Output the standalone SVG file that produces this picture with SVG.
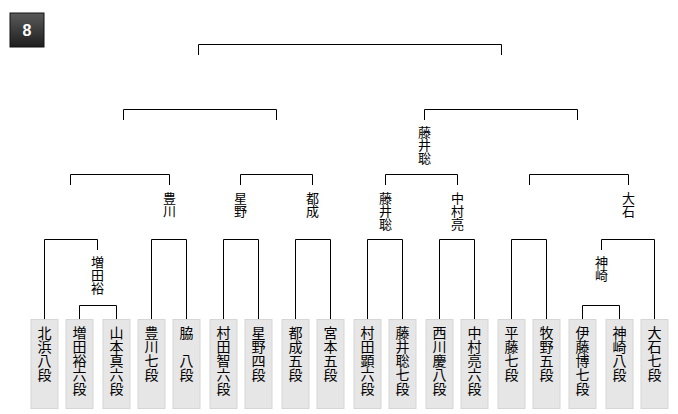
<svg xmlns="http://www.w3.org/2000/svg" width="678" height="414" viewBox="0 0 678 414">
<defs>
<linearGradient id="bg" x1="0" y1="0" x2="0" y2="1">
<stop offset="0" stop-color="#5a5a5a"/>
<stop offset="1" stop-color="#1e1e1e"/>
</linearGradient>
</defs>
<style>
.ln{fill:none;stroke:#000;stroke-width:1}
.bx{fill:#e6e6e6;stroke:#d6d6d6;stroke-width:1}
.t{font-family:"Noto Sans CJK JP","Noto Sans CJK SC",sans-serif;font-size:13px;fill:#000;writing-mode:vertical-rl;text-orientation:upright}
.n{font-size:14px}
</style>
<rect width="678" height="414" fill="#fff"/>
<g id="badge">
<rect x="10" y="13" width="34" height="34" fill="url(#bg)" stroke="#111"/>
<text x="27" y="36" text-anchor="middle" font-family="Liberation Sans, Arial, sans-serif" font-weight="bold" font-size="16" fill="#fff">8</text>
</g>
<g id="connectors">
<path class="ln" d="M198.5,55V44.5H501.5V55"/>
<path class="ln" d="M123.5,120V109.5H276.5V120"/>
<path class="ln" d="M424.5,120V109.5H577.5V120"/>
<path class="ln" d="M70.5,185V174.5H169.5V185"/>
<path class="ln" d="M240.5,185V174.5H312.5V185"/>
<path class="ln" d="M385.5,185V174.5H457.5V185"/>
<path class="ln" d="M529.5,185V174.5H628.5V185"/>
<path class="ln" d="M44.5,319V239.5H97.5V250"/>
<path class="ln" d="M79.5,319V305.5H116.5V319"/>
<path class="ln" d="M151.5,319V239.5H186.5V319"/>
<path class="ln" d="M223.5,319V239.5H258.5V319"/>
<path class="ln" d="M295.5,319V239.5H330.5V319"/>
<path class="ln" d="M367.5,319V239.5H402.5V319"/>
<path class="ln" d="M439.5,319V239.5H474.5V319"/>
<path class="ln" d="M511.5,319V239.5H546.5V319"/>
<path class="ln" d="M601.5,250V239.5H654.5V319"/>
<path class="ln" d="M582.5,319V305.5H619.5V319"/>
</g>
<g id="labels">
<text class="t" x="424.5" y="126">藤井聡</text>
<text class="t" x="169.5" y="192">豊川</text>
<text class="t" x="240.5" y="192">星野</text>
<text class="t" x="312.5" y="192">都成</text>
<text class="t" x="385.5" y="192">藤井聡</text>
<text class="t" x="457.5" y="192">中村亮</text>
<text class="t" x="628.5" y="192">大石</text>
<text class="t" x="97.5" y="256">増田裕</text>
<text class="t" x="601.5" y="256">神崎</text>
</g>
<g id="p1"><rect class="bx" x="31" y="319.5" width="27" height="89"/><text class="t n" x="44.5" y="326">北浜八段</text></g>
<g id="p2"><rect class="bx" x="66" y="319.5" width="27" height="89"/><text class="t n" x="79.5" y="326">増田裕六段</text></g>
<g id="p3"><rect class="bx" x="103" y="319.5" width="27" height="89"/><text class="t n" x="116.5" y="326">山本真六段</text></g>
<g id="p4"><rect class="bx" x="138" y="319.5" width="27" height="89"/><text class="t n" x="151.5" y="326">豊川七段</text></g>
<g id="p5"><rect class="bx" x="173" y="319.5" width="27" height="89"/><text class="t n" x="186.5" y="326">脇　八段</text></g>
<g id="p6"><rect class="bx" x="210" y="319.5" width="27" height="89"/><text class="t n" x="223.5" y="326">村田智六段</text></g>
<g id="p7"><rect class="bx" x="245" y="319.5" width="27" height="89"/><text class="t n" x="258.5" y="326">星野四段</text></g>
<g id="p8"><rect class="bx" x="282" y="319.5" width="27" height="89"/><text class="t n" x="295.5" y="326">都成五段</text></g>
<g id="p9"><rect class="bx" x="317" y="319.5" width="27" height="89"/><text class="t n" x="330.5" y="326">宮本五段</text></g>
<g id="p10"><rect class="bx" x="354" y="319.5" width="27" height="89"/><text class="t n" x="367.5" y="326">村田顕六段</text></g>
<g id="p11"><rect class="bx" x="389" y="319.5" width="27" height="89"/><text class="t n" x="402.5" y="326">藤井聡七段</text></g>
<g id="p12"><rect class="bx" x="426" y="319.5" width="27" height="89"/><text class="t n" x="439.5" y="326">西川慶八段</text></g>
<g id="p13"><rect class="bx" x="461" y="319.5" width="27" height="89"/><text class="t n" x="474.5" y="326">中村亮六段</text></g>
<g id="p14"><rect class="bx" x="498" y="319.5" width="27" height="89"/><text class="t n" x="511.5" y="326">平藤七段</text></g>
<g id="p15"><rect class="bx" x="533" y="319.5" width="27" height="89"/><text class="t n" x="546.5" y="326">牧野五段</text></g>
<g id="p16"><rect class="bx" x="569" y="319.5" width="27" height="89"/><text class="t n" x="582.5" y="326">伊藤博七段</text></g>
<g id="p17"><rect class="bx" x="606" y="319.5" width="27" height="89"/><text class="t n" x="619.5" y="326">神崎八段</text></g>
<g id="p18"><rect class="bx" x="641" y="319.5" width="27" height="89"/><text class="t n" x="654.5" y="326">大石七段</text></g>
</svg>
